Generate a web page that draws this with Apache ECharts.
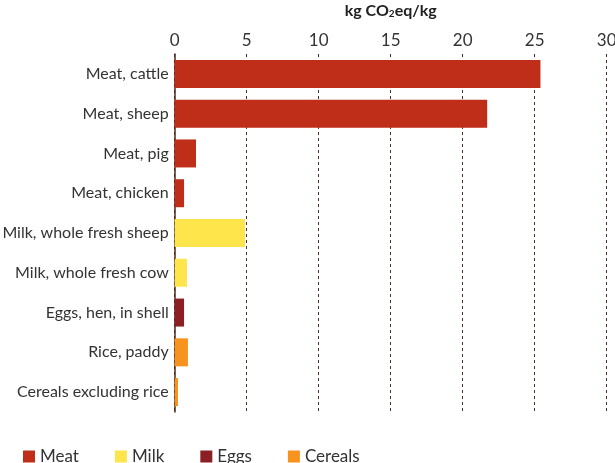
<!DOCTYPE html>
<html><head><meta charset="utf-8">
<script src="https://cdn.jsdelivr.net/npm/echarts@6/dist/echarts.min.js"></script>
<style>html,body{margin:0;padding:0;background:#fff}#c{width:615px;height:463px}</style>
</head><body><div id="c"></div>
<script>
const categories = ['Meat, cattle', 'Meat, sheep', 'Meat, pig', 'Meat, chicken', 'Milk, whole fresh sheep', 'Milk, whole fresh cow', 'Eggs, hen, in shell', 'Rice, paddy', 'Cereals excluding rice'];
const values = [25.4, 21.7, 1.48, 0.65, 4.88, 0.85, 0.65, 0.92, 0.23];
const groups = ['Meat', 'Meat', 'Meat', 'Meat', 'Milk', 'Milk', 'Eggs', 'Cereals', 'Cereals'];
const groupNames = ['Meat', 'Milk', 'Eggs', 'Cereals'];
const groupColors = ['#be2e19', '#fee54b', '#8b1f25', '#f7931f'];
const xTicks = [0, 5, 10, 15, 20, 25, 30];

const font = 'Lato';
const chart = echarts.init(document.getElementById('c'));
chart.setOption({
  animation: false,
  textStyle: { fontFamily: font },
  grid: { left: 174.7, right: 8.3, top: 54, bottom: 51, containLabel: false, outerBoundsMode: 'none' },
  legend: {
    data: groupNames,
    left: 18, top: 443,
    icon: 'rect', itemWidth: 12, itemHeight: 12, itemGap: 36,
    textStyle: { fontSize: 17, color: '#333', fontFamily: font }
  },
  xAxis: {
    type: 'value', position: 'top', min: xTicks[0], max: xTicks[xTicks.length - 1], interval: 5,
    name: '{a|kg CO}{s|2}{a|eq/kg}', nameLocation: 'middle', nameGap: 35,
    nameTextStyle: {
      rich: {
        a: { fontSize: 16, fontWeight: 'bold', color: '#222', fontFamily: font },
        s: { fontSize: 10, fontWeight: 'bold', color: '#222', fontFamily: font, padding: [6, 0, 0, 0] }
      }
    },
    axisLine: { show: false },
    axisTick: { show: false },
    axisLabel: { fontSize: 17, color: '#333', margin: 5, fontFamily: font },
    splitLine: { show: true, lineStyle: { type: [3, 3], color: '#4a3028', width: 1 } }
  },
  yAxis: {
    type: 'category', data: categories, inverse: true,
    axisLine: { show: true, lineStyle: { color: '#4a2a1a', width: 1.5 } },
    axisTick: { show: false },
    axisLabel: { fontSize: 16, color: '#333', margin: 6, fontFamily: font }
  },
  series: groupNames.map((g, gi) => ({
    name: g, type: 'bar', stack: 'total', barWidth: 28,
    itemStyle: { color: groupColors[gi] },
    data: values.map((v, i) => groups[i] === g ? v : '-')
  }))
});
</script></body></html>
